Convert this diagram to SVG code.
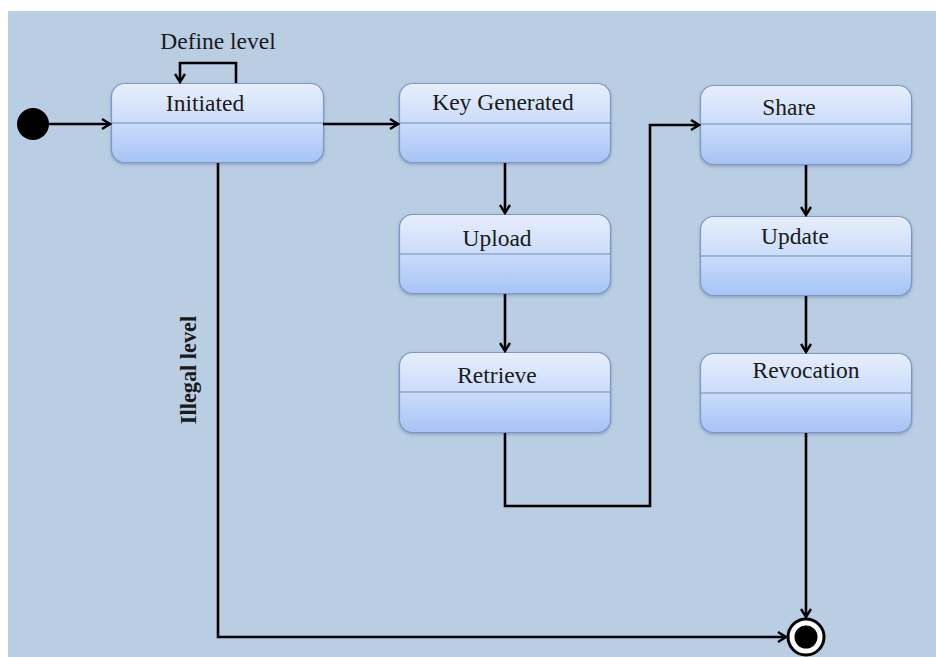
<svg xmlns="http://www.w3.org/2000/svg" width="936" height="657" viewBox="0 0 936 657">
<defs>
<linearGradient id="g" x1="0" y1="0" x2="0" y2="1">
<stop offset="0" stop-color="#e6eefc"/>
<stop offset="0.5" stop-color="#cbdcfa"/>
<stop offset="1" stop-color="#a6c3f6"/>
</linearGradient>
<marker id="arr" markerWidth="12" markerHeight="12" refX="10" refY="6" orient="auto" markerUnits="userSpaceOnUse">
<path d="M2,1 L10,6 L2,11" fill="none" stroke="#000" stroke-width="2.4" stroke-linejoin="miter"/>
</marker>
<filter id="sh" x="-10%" y="-10%" width="120%" height="130%">
<feDropShadow dx="0" dy="1.5" stdDeviation="1.5" flood-color="#5a6f90" flood-opacity="0.5"/>
</filter>
</defs>
<style>
.box{fill:url(#g);stroke:#7d98c4;stroke-width:1.2;filter:url(#sh)}
.div{stroke:#6f8ab3;stroke-width:1.2}
.t{font-family:"Liberation Serif","Times New Roman",serif;font-size:23.5px;fill:#1a1a1a;text-anchor:middle}
.c{fill:none;stroke:#000;stroke-width:2.6}
</style>
<rect x="0" y="0" width="936" height="657" fill="#ffffff"/>
<rect x="8" y="11" width="928" height="646" fill="#b9cde3"/>

<g id="initial"><circle cx="33" cy="124" r="16" fill="#000"/></g>

<g id="initiated">
<rect class="box" x="111.5" y="83.5" width="212" height="79" rx="13"/>
<line class="div" x1="112" y1="123" x2="323" y2="123"/>
<text class="t" x="205" y="111">Initiated</text>
</g>
<g id="keygen">
<rect class="box" x="399.5" y="83.5" width="211" height="79" rx="13"/>
<line class="div" x1="400" y1="123" x2="610" y2="123"/>
<text class="t" x="503" y="110">Key Generated</text>
</g>
<g id="upload">
<rect class="box" x="399.5" y="214.5" width="211" height="79" rx="13"/>
<line class="div" x1="400" y1="254" x2="610" y2="254"/>
<text class="t" x="497" y="246">Upload</text>
</g>
<g id="retrieve">
<rect class="box" x="399.5" y="352.5" width="211" height="80" rx="13"/>
<line class="div" x1="400" y1="392" x2="610" y2="392"/>
<text class="t" x="497" y="383">Retrieve</text>
</g>
<g id="share">
<rect class="box" x="700.5" y="85.5" width="211" height="79" rx="13"/>
<line class="div" x1="701" y1="124" x2="911" y2="124"/>
<text class="t" x="789" y="115">Share</text>
</g>
<g id="update">
<rect class="box" x="700.5" y="216.5" width="211" height="79" rx="13"/>
<line class="div" x1="701" y1="256" x2="911" y2="256"/>
<text class="t" x="795" y="244">Update</text>
</g>
<g id="revocation">
<rect class="box" x="700.5" y="353.5" width="211" height="79" rx="13"/>
<line class="div" x1="701" y1="393" x2="911" y2="393"/>
<text class="t" x="806" y="378">Revocation</text>
</g>

<g id="final">
<circle cx="806" cy="637" r="18" fill="#ffffff" stroke="#000" stroke-width="3"/>
<circle cx="806" cy="637" r="11.5" fill="#000"/>
</g>

<g id="connectors">
<path class="c" d="M49,124 H110" marker-end="url(#arr)"/>
<path class="c" d="M236,83 V63 H180 V82" marker-end="url(#arr)"/>
<path class="c" d="M323,124 H398" marker-end="url(#arr)"/>
<path class="c" d="M505,163 V213" marker-end="url(#arr)"/>
<path class="c" d="M505,294 V351" marker-end="url(#arr)"/>
<path class="c" d="M505,433 V506 H650 V125 H699" marker-end="url(#arr)"/>
<path class="c" d="M806,165 V215" marker-end="url(#arr)"/>
<path class="c" d="M806,296 V352" marker-end="url(#arr)"/>
<path class="c" d="M806,433 V617" marker-end="url(#arr)"/>
<path class="c" d="M218,163 V637 H786" marker-end="url(#arr)"/>
</g>

<g id="labels">
<text class="t" x="218" y="49">Define level</text>
<text class="t" transform="translate(196,370) rotate(-90)" x="0" y="0" style="font-weight:bold;font-size:22.3px">Illegal level</text>
</g>
</svg>
